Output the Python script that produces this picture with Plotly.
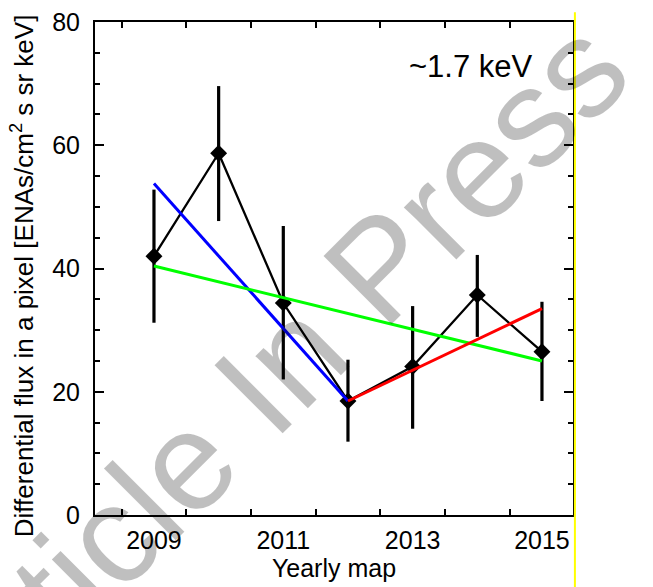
import plotly.graph_objects as go

# ---- data ----
years = [2009, 2010, 2011, 2012, 2013, 2014, 2015]
flux = [42.0, 58.7, 34.4, 18.5, 24.1, 35.7, 26.5]
flux_upper = [52.8, 69.6, 46.9, 25.2, 33.9, 42.2, 34.6]
flux_lower = [31.2, 47.7, 22.0, 11.9, 14.0, 28.9, 18.5]

blue_x = [2009, 2012]
blue_y = [53.8, 18.5]
green_x = [2009, 2015]
green_y = [40.4, 25.0]
red_x = [2012, 2015]
red_y = [18.5, 33.5]

xtick_vals = [2009, 2011, 2013, 2015]
xtick_text = ["2009", "2011", "2013", "2015"]
ytick_vals = [0, 20, 40, 60, 80]

label_text = "~1.7 keV"
y_title = "Differential flux in a pixel [ENAs/cm<sup>2</sup> s sr keV]"
x_title = "Yearly map"
watermark = "Article In Press"

FONT = "Liberation Sans, Arial, Helvetica, sans-serif"

err_plus = [u - v for u, v in zip(flux_upper, flux)]
err_minus = [v - l for v, l in zip(flux, flux_lower)]

fig = go.Figure()
fig.add_trace(go.Scatter(
    x=years, y=flux, mode="lines+markers",
    line=dict(color="black", width=2.3),
    marker=dict(symbol="diamond", size=13, color="black"),
    error_y=dict(type="data", symmetric=False, array=err_plus,
                 arrayminus=err_minus, color="black", thickness=3.2, width=0),
    showlegend=False, cliponaxis=False,
))
for xs, ys, col in [(blue_x, blue_y, "#0000ff"), (green_x, green_y, "#00ff00"),
                    (red_x, red_y, "#ff0000")]:
    fig.add_trace(go.Scatter(x=xs, y=ys, mode="lines",
                             line=dict(color=col, width=3), showlegend=False))

fig.update_layout(
    width=653, height=587,
    margin=dict(l=95, r=80, t=22, b=72, autoexpand=False),
    paper_bgcolor="white", plot_bgcolor="white",
    font=dict(family=FONT, size=25, color="black"),
    xaxis=dict(
        range=[2008.088, 2015.48], showgrid=False, zeroline=False,
        showline=True, linecolor="black", linewidth=2, mirror="ticks",
        tickmode="array", tickvals=xtick_vals, ticktext=xtick_text,
        ticks="", ticklabelstandoff=2,
        minor=dict(tickmode="linear", tick0=2008.5, dtick=1, ticks="inside",
                   ticklen=6, tickwidth=2, tickcolor="black", showgrid=False),
        title=dict(text=x_title, standoff=2, font=dict(size=25)),
        tickfont=dict(size=25),
    ),
    yaxis=dict(
        range=[0, 80], showgrid=False, zeroline=False,
        showline=True, linecolor="black", linewidth=2, mirror="ticks",
        tickmode="array", tickvals=ytick_vals,
        ticks="inside", ticklen=9, tickwidth=2, tickcolor="black",
        ticklabelstandoff=8,
        minor=dict(tickmode="linear", tick0=0, dtick=5, ticks="inside",
                   ticklen=5, tickwidth=2, tickcolor="black", showgrid=False),
        tickfont=dict(size=25),
    ),
    annotations=[
        dict(text=y_title, xref="paper", yref="paper", x=-0.151, y=0.486,
             xanchor="center", yanchor="middle", showarrow=False, textangle=-90,
             font=dict(size=26, family=FONT, color="black")),
        dict(text=label_text, xref="paper", yref="paper", x=0.787, y=0.909,
             xanchor="center", yanchor="middle", showarrow=False,
             font=dict(size=31, family=FONT, color="black")),
        dict(text=watermark, xref="paper", yref="paper", x=0.366, y=0.278,
             xanchor="center", yanchor="middle", showarrow=False, textangle=-45,
             font=dict(size=140, family=FONT, color="rgba(0,0,0,0.25)")),
    ],
    shapes=[
        dict(type="line", xref="paper", yref="paper", x0=1.004, x1=1.004,
             y0=-0.15, y1=1.02, line=dict(color="#ffff00", width=2)),
    ],
)

fig.write_html("out.html")
